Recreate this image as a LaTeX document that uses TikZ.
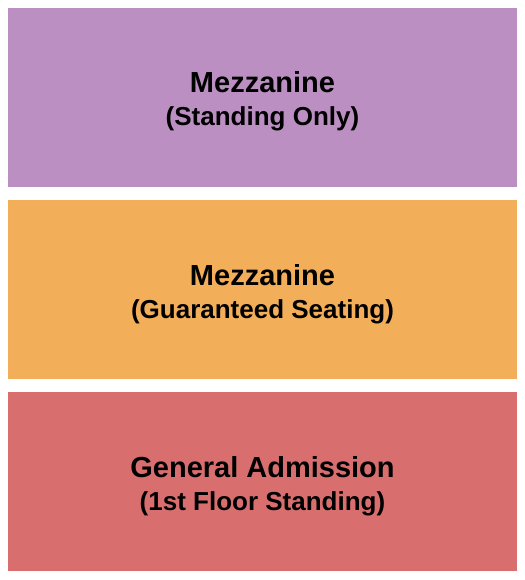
\documentclass[tikz,border=0pt]{standalone}
\usepackage{fontspec}
\setmainfont{Liberation Sans}
\usetikzlibrary{positioning}
\definecolor{standcolor}{RGB}{187,143,194}
\definecolor{seatcolor}{RGB}{243,174,89}
\definecolor{floorcolor}{RGB}{216,110,110}

\begin{document}
\begin{tikzpicture}[x=1bp,y=-1bp,inner sep=0pt,outer sep=0pt,node distance=13bp]
 \tikzstyle{section}=[rectangle,minimum width=509bp,minimum height=179bp]
 \tikzstyle{title}=[anchor=base,font=\fontsize{29bp}{34bp}\selectfont\bfseries]
 \tikzstyle{subtitle}=[anchor=base,font=\fontsize{26bp}{30bp}\selectfont\bfseries]
 \useasboundingbox (0,0) rectangle (525,580);

   \node[section,fill=standcolor] (mezzs) at (262.5,97.5) {};
   \node[section,fill=seatcolor] (mezzg) [below = of mezzs] {};
   \node[section,fill=floorcolor] (ga) [below = of mezzg] {};

   \node[title] (mezzst) at ([yshift=-85bp]mezzs.north) {Mezzanine};
   \node[subtitle] (mezzss) at ([yshift=-33bp]mezzst.base) {(Standing Only)};
   \node[title] (mezzgt) at ([yshift=-85bp]mezzg.north) {Mezzanine};
   \node[subtitle] (mezzgs) at ([yshift=-33bp]mezzgt.base) {(Guaranteed Seating)};
   \node[title] (gat) at ([yshift=-85bp]ga.north) {General Admission};
   \node[subtitle] (gas) at ([yshift=-33bp]gat.base) {(1st Floor Standing)};

\end{tikzpicture}
\end{document}
